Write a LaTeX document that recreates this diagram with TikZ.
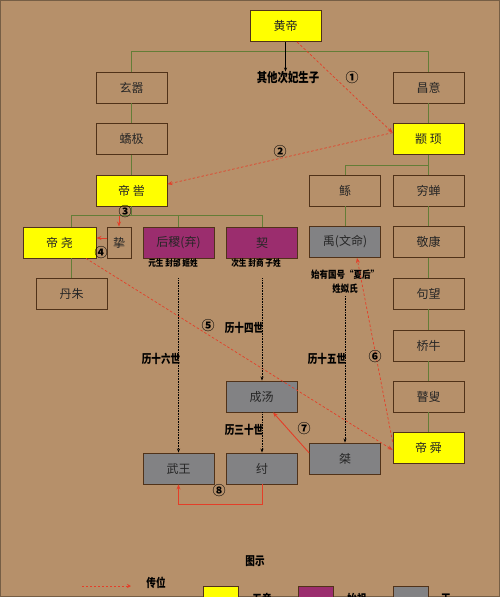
\documentclass[tikz,border=0pt]{standalone}
\usepackage{fontspec}
\newfontfamily\cjk{Noto Sans CJK SC}
\usetikzlibrary{arrows.meta,calc}
\definecolor{bg}{RGB}{182,144,106}
\definecolor{boxline}{RGB}{80,50,25}
\definecolor{wudi}{RGB}{255,255,0}
\definecolor{shizu}{RGB}{155,45,110}
\definecolor{wang}{RGB}{130,130,132}
\definecolor{treeline}{RGB}{100,125,55}
\definecolor{chuan}{RGB}{228,62,40}
\begin{document}
\begin{tikzpicture}[x=1pt,y=-1pt,
  box/.style={draw=boxline, line width=0.9pt, minimum width=71pt, minimum height=31pt, inner sep=0pt, font=\cjk\fontsize{12}{12}\selectfont, text=black!85},
  yel/.style={box, fill=wudi},
  pur/.style={box, fill=shizu},
  gry/.style={box, fill=wang},
  tree/.style={draw=treeline, line width=0.8pt},
  pass/.style={draw=chuan, line width=0.7pt, dash pattern=on 2.5pt off 2pt, -{Stealth[length=5pt,width=4pt]}},
  passs/.style={draw=chuan, line width=0.9pt, -{Stealth[length=5pt,width=4pt]}},
  gen/.style={draw=black, line width=0.6pt, densely dotted, -{Stealth[length=4pt,width=3pt]}},
  lab/.style={font=\cjk\bfseries\fontsize{12}{12}\selectfont, inner sep=0pt, xscale=0.8},
  small/.style={font=\cjk\bfseries\fontsize{9}{9}\selectfont, inner sep=0pt, xscale=0.85},
  num/.style={font=\cjk\bfseries\fontsize{13}{13}\selectfont, inner sep=0pt},
  legbox/.style={draw=boxline, line width=0.8pt, minimum width=35pt, minimum height=20pt, inner sep=0pt}
]
\useasboundingbox (0,0) rectangle (500,597);
\clip (0,0) rectangle (500,597);
\fill[bg] (0,0) rectangle (500,597);
\draw[bg!65!black, line width=1pt] (0.5,0.5) rectangle (499.5,596.5);

% nodes
\node[yel] (huangdi) at (285.5,26) {黄帝};
\node[box] (xuanxiao) at (131.5,87.5) {玄嚣};
\node[box] (jiaoji) at (131.5,139) {蟜极};
\node[yel] (diku) at (131.5,190.5) {帝 喾};
\node[box] (changyi) at (428.5,87.5) {昌意};
\node[yel] (zhuanxu) at (428.5,139) {颛 顼};
\node[box] (gun) at (345,190.5) {鲧};
\node[box] (qiongchan) at (428.5,190.5) {穷蝉};
\node[gry] (yu) at (345,242) {禹(文命)};
\node[box] (jingkang) at (428.5,242) {敬康};
\node[box] (juwang) at (428.5,293.5) {句望};
\node[box] (qiaoniu) at (428.5,345.5) {桥牛};
\node[box] (gusou) at (428.5,396.5) {瞽叟};
\node[yel] (dishun) at (428.5,448) {帝 舜};
\node[yel, minimum width=73pt] (diyao) at (59.5,242.5) {帝 尧};
\node[box, minimum width=24pt] (zhi) at (119,242.5) {挚};
\node[pur] (houji) at (178.5,242.5) {后稷(弃)};
\node[pur] (xie) at (262,242.5) {契};
\node[box] (danzhu) at (71.5,293.5) {丹朱};
\node[gry] (chengtang) at (261.5,396.5) {成汤};
\node[gry] (wuwang) at (178.5,468.5) {武王};
\node[gry] (zhou) at (262,468.5) {纣};
\node[gry] (jie) at (345,458.5) {桀};

% text labels
\node[lab, font=\cjk\bfseries\fontsize{13}{13}\selectfont, xscale=1] (others) at (288,78) {其他次妃生子};
\node[small] (houjitxt) at (173,263) {元生 封邰 姬姓};
\node[small] (xietxt) at (256,263) {次生 封商 子姓};
\node[small, font=\cjk\bfseries\fontsize{10}{10}\selectfont] (yutxt1) at (345,275) {始有国号“夏后”};
\node[small, font=\cjk\bfseries\fontsize{10}{10}\selectfont] (yutxt2) at (345,289) {姓姒氏};
\node[lab] (l14) at (244,328) {历十四世};
\node[lab] (l16) at (161,359) {历十六世};
\node[lab] (l15) at (327,359) {历十五世};
\node[lab] (l30) at (244,430) {历三十世};

% tree lines
\draw[tree] (xuanxiao.north) -- ++(0,-20) -| (changyi.north);
\draw[tree] (xuanxiao.south) -- (jiaoji.north);
\draw[tree] (jiaoji.south) -- (diku.north);
\draw[tree] (changyi.south) -- (zhuanxu.north);
\draw[tree] (zhuanxu.south) -- (qiongchan.north);
\draw[tree] (zhuanxu.south) -- ++(0,10) -| (gun.north);
\draw[tree] (gun.south) -- (yu.north);
\draw[tree] (qiongchan.south) -- (jingkang.north);
\draw[tree] (jingkang.south) -- (juwang.north);
\draw[tree] (juwang.south) -- (qiaoniu.north);
\draw[tree] (qiaoniu.south) -- (gusou.north);
\draw[tree] (gusou.south) -- (dishun.north);
\draw[tree] (diku.south) -- ++(0,10) coordinate (kuj);
\draw[tree] (danzhu.north |- diyao.north) -- ++(0,-11) -| (xie.north);
\draw[tree] (houji.north) -- ++(0,-11);
\draw[tree] (danzhu.north |- diyao.south) -- (danzhu.north);

% other-sons arrow
\draw[black, line width=0.7pt, -{Stealth[length=4pt,width=3pt]}] (huangdi.south) -- (huangdi.south |- others.north);

% succession
\draw[pass] (huangdi.306) -- (zhuanxu.170);
\draw[pass] (zhuanxu.170) -- (diku.10);
\draw[passs] (kuj -| zhi.north) -- (zhi.north);
\draw[passs] (zhi.west |- 0,238) -- (diyao.east |- 0,238);
\draw[pass] (diyao.329) -- (dishun.183);
\draw[pass] (dishun.170) -- (yu.307);
\draw[passs] (jie.171) -- (chengtang.306);
\draw[passs] (zhou.south) -- ++(0,19.5) -| (wuwang.south);

\node[num] (n1) at (352,78) {①};
\node[num] (n2) at (280,152) {②};
\node[num] (n3) at (125,212) {③};
\node[num] (n4) at (101,253) {④};
\node[num] (n5) at (208,326) {⑤};
\node[num] (n6) at (375,357) {⑥};
\node[num] (n7) at (304,429) {⑦};
\node[num] (n8) at (219,491) {⑧};

% generations
\draw[gen] ($(houji.south)+(0,20)$) -- (wuwang.north);
\draw[gen] ($(xie.south)+(0,20)$) -- (xie.south |- chengtang.north);
\draw[gen] (chengtang.south -| zhou.north) -- (zhou.north);
\draw[gen] ($(yu.south)+(0,38)$) -- (jie.north);

% legend
\node[lab, xscale=1] (legend) at (255,561) {图示};
\coordinate (la) at (82,586);
\coordinate (lb) at (131,586);
\draw[pass, dash pattern=on 2pt off 2pt, -{Stealth[length=4pt,width=4pt]}] (la) -- (lb);
\node[lab, xscale=1] (chuanwei) at (156,583) {传位};
\node[legbox, fill=wudi] (ky) at (220.5,596) {};
\node[lab, xscale=1] (tky) at (262,599) {五帝};
\node[legbox, fill=shizu] (kp) at (315.5,596) {};
\node[lab, xscale=1] (tkp) at (357,599) {始祖};
\node[legbox, fill=wang] (kg) at (410.5,596) {};
\node[lab, xscale=1] (tkg) at (446,599) {王};
\end{tikzpicture}
\end{document}
